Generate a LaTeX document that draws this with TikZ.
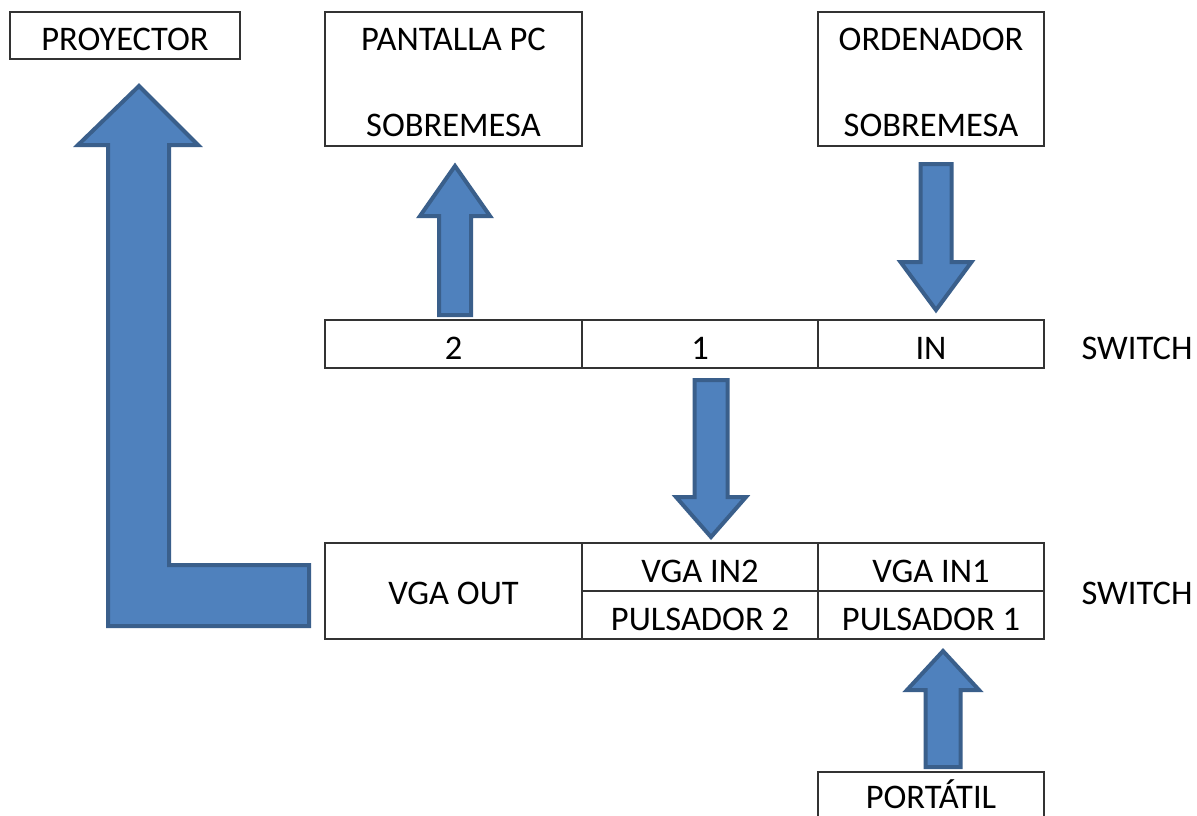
\documentclass[tikz,border=0pt]{standalone}
\usepackage{fontspec}
\setmainfont{Carlito}
\usetikzlibrary{calc}
\definecolor{arrowfill}{HTML}{4F81BD}
\definecolor{arrowline}{HTML}{3A5F8B}
\definecolor{boxline}{HTML}{333333}
\tikzset{
  box/.style={draw=boxline, line width=1.3pt, rectangle, inner sep=0pt, outer sep=0pt, anchor=north west},
  lbl/.style={font=\fontsize{34.5}{41}\selectfont, anchor=base, inner sep=0pt, text=black},
  blockarrow/.style={fill=arrowfill, draw=arrowline, line width=4pt, line join=miter},
}
% #1 tail, #2 tip, #3 head length, #4 wing half width, #5 shaft half width
\newcommand{\blockarr}[5]{%
  \draw[blockarrow] let \p1=(#1), \p2=(#2), \n1={sign(\y1-\y2)} in
    (\x2,\y2) -- (\x2+#4,\y2+\n1*#3) -- (\x2+#5,\y2+\n1*#3) -- (\x2+#5,\y1)
    -- (\x2-#5,\y1) -- (\x2-#5,\y2+\n1*#3) -- (\x2-#4,\y2+\n1*#3) -- cycle;}
\begin{document}
\begin{tikzpicture}[x=1pt,y=-1pt]
\useasboundingbox (0,0) rectangle (1197,816);
\fill[white] (0,0) rectangle (1197,816);
% top boxes
\node[box, minimum width=230pt, minimum height=47pt] (proyector) at (10,12) {};
\node[box, minimum width=257pt, minimum height=134pt] (pantalla) at (325,12) {};
\node[box, minimum width=226pt, minimum height=134pt] (ordenador) at (818,12) {};
\node[lbl] (tproy) at ($(proyector.north)+(0,38.1)$) {PROYECTOR};
\node[lbl] (tpant1) at ($(pantalla.north)+(0,38.1)$) {PANTALLA PC};
\node[lbl] (tpant2) at ($(pantalla.north)+(0,124.1)$) {SOBREMESA};
\node[lbl] (tord1) at ($(ordenador.north)+(0,38.1)$) {ORDENADOR};
\node[lbl] (tord2) at ($(ordenador.north)+(0,124.1)$) {SOBREMESA};
% top switch
\node[box, minimum width=257pt, minimum height=48pt] (c2) at (325,320) {};
\node[box, minimum width=236pt, minimum height=48pt] (c1) at (582,320) {};
\node[box, minimum width=226pt, minimum height=48pt] (cin) at (818,320) {};
\node[lbl] (tc2) at ($(c2.north)+(0,39.1)$) {2};
\node[lbl] (tc1) at ($(c1.north)+(0,39.1)$) {1};
\node[lbl] (tcin) at ($(cin.north)+(0,39.1)$) {IN};
\node[lbl] (sw1) at (1137,359.1) {SWITCH};
% bottom switch
\node[box, minimum width=257pt, minimum height=96pt] (vout) at (325,543) {};
\node[box, minimum width=236pt, minimum height=48pt] (vin2) at (582,543) {};
\node[box, minimum width=236pt, minimum height=48pt] (pul2) at (582,591) {};
\node[box, minimum width=226pt, minimum height=48pt] (vin1) at (818,543) {};
\node[box, minimum width=226pt, minimum height=48pt] (pul1) at (818,591) {};
\node[lbl] (tvout) at ($(vout.north)+(0,61.1)$) {VGA OUT};
\node[lbl] (tvin2) at ($(vin2.north)+(0,39.6)$) {VGA IN2};
\node[lbl] (tpul2) at ($(pul2.north)+(0,39.1)$) {PULSADOR 2};
\node[lbl] (tvin1) at ($(vin1.north)+(0,39.6)$) {VGA IN1};
\node[lbl] (tpul1) at ($(pul1.north)+(0,39.1)$) {PULSADOR 1};
\node[lbl] (sw2) at (1137,604.6) {SWITCH};
% portatil
\node[box, minimum width=226pt, minimum height=60pt] (portatil) at (818,772) {};
\node[lbl] (tport) at ($(portatil.north)+(0,36.5)$) {PORTÁTIL};
% arrows
\coordinate (a1t) at ($(c2.north)+(1.5,-5)$);
\coordinate (a1h) at ($(pantalla.south)+(1.5,20)$);
\blockarr{a1t}{a1h}{50pt}{35pt}{16pt}
\coordinate (a2t) at ($(ordenador.south)+(5,18)$);
\coordinate (a2h) at ($(cin.north)+(5,-10)$);
\blockarr{a2t}{a2h}{48pt}{35.5pt}{15.5pt}
\coordinate (a3t) at ($(c1.south)+(11,12)$);
\coordinate (a3h) at ($(vin2.north)+(11,-6)$);
\blockarr{a3t}{a3h}{40pt}{35pt}{16.5pt}
\coordinate (a4t) at ($(portatil.north)+(12,-5)$);
\coordinate (a4h) at ($(pul1.south)+(12,12)$);
\blockarr{a4t}{a4h}{39pt}{36pt}{17.5pt}
% L-shaped arrow from VGA OUT to PROYECTOR
\coordinate (lstart) at ($(vout.west)+(-16,35)$);
\coordinate (ltip) at ($(proyector.south)+(14,27)$);
\draw[blockarrow] (lstart) -- ++(0,-61) -- ++(-140,0) -- ++(0,-420)
  -- ++(29,0) -- (ltip) -- ++(-61,59) -- ++(30,0) -- (lstart -| {$(ltip)+(-31,0)$}) -- cycle;
\end{tikzpicture}
\end{document}
